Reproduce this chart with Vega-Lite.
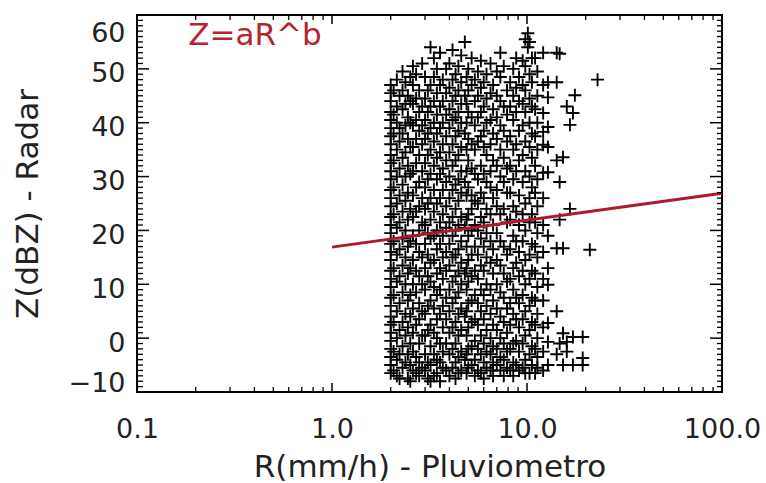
{
"$schema": "https://vega.github.io/schema/vega-lite/v6.json",
"width": 585, "height": 377,
"autosize": {"type": "none"},
"padding": {"left": 137, "top": 15, "right": 44, "bottom": 91},
"background": "white",
"view": {"stroke": "#000", "strokeWidth": 2},
"config": {"font": "DejaVu Sans", "axis": {"grid": false, "domain": false, "labelFont": "DejaVu Sans", "titleFont": "DejaVu Sans", "labelColor": "#222", "titleColor": "#222", "titleFontWeight": "normal", "labelOverlap": false, "labelBound": false}},
"datasets": {
"obs": [
{"R":2,"Z":47},{"R":2,"Z":45.5},{"R":2,"Z":44},{"R":2,"Z":42},{"R":2,"Z":40.5},{"R":2,"Z":39},{"R":2,"Z":37.5},{"R":2,"Z":36},{"R":2,"Z":34},{"R":2,"Z":32.5},{"R":2,"Z":31},{"R":2,"Z":29.5},{"R":2,"Z":27.5},{"R":2,"Z":26},{"R":2,"Z":24.5},{"R":2,"Z":22.5},{"R":2,"Z":21},{"R":2,"Z":19.5},{"R":2,"Z":17.5},{"R":2,"Z":16},{"R":2,"Z":14.5},{"R":2,"Z":12.5},{"R":2,"Z":11},{"R":2,"Z":9.5},{"R":2,"Z":7.5},{"R":2,"Z":6},{"R":2,"Z":4},{"R":2,"Z":2.5},{"R":2,"Z":1},{"R":2,"Z":-0.5},{"R":2,"Z":-2},{"R":2,"Z":-3.5},{"R":2,"Z":-5},{"R":2,"Z":-6.5},
{"R":2.07,"Z":46},{"R":2.07,"Z":41.5},{"R":2.07,"Z":38},{"R":2.07,"Z":33},{"R":2.07,"Z":28},{"R":2.07,"Z":23},{"R":2.07,"Z":18},{"R":2.07,"Z":13},{"R":2.07,"Z":8},{"R":2.07,"Z":3},{"R":2.07,"Z":-2.5},{"R":2.07,"Z":-6},
{"R":2.15,"Z":48},{"R":2.15,"Z":43},{"R":2.15,"Z":40},{"R":2.15,"Z":35},{"R":2.15,"Z":30},{"R":2.15,"Z":25},{"R":2.15,"Z":20.5},{"R":2.15,"Z":15.5},{"R":2.15,"Z":10.5},{"R":2.15,"Z":5},{"R":2.15,"Z":0},{"R":2.15,"Z":-4},{"R":2.15,"Z":-7},
{"R":2.22,"Z":45},{"R":2.22,"Z":39},{"R":2.22,"Z":36.5},{"R":2.22,"Z":31.5},{"R":2.22,"Z":26.5},{"R":2.22,"Z":21.5},{"R":2.22,"Z":16.5},{"R":2.22,"Z":11.5},{"R":2.22,"Z":6.5},{"R":2.22,"Z":1.5},{"R":2.22,"Z":-3},{"R":2.22,"Z":-7.5},
{"R":2.3,"Z":49.5},{"R":2.3,"Z":46},{"R":2.3,"Z":42.5},{"R":2.3,"Z":38},{"R":2.3,"Z":33.5},{"R":2.3,"Z":28.5},{"R":2.3,"Z":23.5},{"R":2.3,"Z":18.5},{"R":2.3,"Z":13.5},{"R":2.3,"Z":8.5},{"R":2.3,"Z":3},{"R":2.3,"Z":-1.5},{"R":2.3,"Z":-5.5},
{"R":2.38,"Z":47.5},{"R":2.38,"Z":43.5},{"R":2.38,"Z":39.5},{"R":2.38,"Z":34.5},{"R":2.38,"Z":30},{"R":2.38,"Z":25.5},{"R":2.38,"Z":20},{"R":2.38,"Z":15},{"R":2.38,"Z":10},{"R":2.38,"Z":4.5},{"R":2.38,"Z":0.5},{"R":2.38,"Z":-4.5},
{"R":2.45,"Z":45},{"R":2.45,"Z":41},{"R":2.45,"Z":37},{"R":2.45,"Z":32},{"R":2.45,"Z":27},{"R":2.45,"Z":22},{"R":2.45,"Z":17},{"R":2.45,"Z":12},{"R":2.45,"Z":7},{"R":2.45,"Z":2},{"R":2.45,"Z":-3},{"R":2.45,"Z":-7.5},
{"R":2.52,"Z":48.5},{"R":2.52,"Z":44},{"R":2.52,"Z":40},{"R":2.52,"Z":35.5},{"R":2.52,"Z":30.5},{"R":2.52,"Z":24},{"R":2.52,"Z":18},{"R":2.52,"Z":13},{"R":2.52,"Z":8},{"R":2.52,"Z":4},{"R":2.52,"Z":-1},{"R":2.52,"Z":-5},{"R":2.52,"Z":-8},
{"R":2.6,"Z":50.5},{"R":2.6,"Z":47},{"R":2.6,"Z":43.5},{"R":2.6,"Z":39.5},{"R":2.6,"Z":35.5},{"R":2.6,"Z":31},{"R":2.6,"Z":26.5},{"R":2.6,"Z":22.5},{"R":2.6,"Z":19},{"R":2.6,"Z":14.5},{"R":2.6,"Z":10},{"R":2.6,"Z":5.5},{"R":2.6,"Z":1},{"R":2.6,"Z":-2.5},{"R":2.6,"Z":-6},
{"R":2.7,"Z":49},{"R":2.7,"Z":44.5},{"R":2.7,"Z":40.5},{"R":2.7,"Z":37},{"R":2.7,"Z":32.5},{"R":2.7,"Z":28},{"R":2.7,"Z":23.5},{"R":2.7,"Z":17.5},{"R":2.7,"Z":12.5},{"R":2.7,"Z":8.5},{"R":2.7,"Z":2.5},{"R":2.7,"Z":-3.5},{"R":2.7,"Z":-6.5},
{"R":2.8,"Z":46},{"R":2.8,"Z":42},{"R":2.8,"Z":38.5},{"R":2.8,"Z":34},{"R":2.8,"Z":29},{"R":2.8,"Z":24.5},{"R":2.8,"Z":20},{"R":2.8,"Z":16},{"R":2.8,"Z":11.5},{"R":2.8,"Z":6.5},{"R":2.8,"Z":3.5},{"R":2.8,"Z":-1},{"R":2.8,"Z":-4.5},{"R":2.8,"Z":-7},
{"R":2.9,"Z":51},{"R":2.9,"Z":43},{"R":2.9,"Z":39.5},{"R":2.9,"Z":36},{"R":2.9,"Z":31},{"R":2.9,"Z":26},{"R":2.9,"Z":21.5},{"R":2.9,"Z":15},{"R":2.9,"Z":10},{"R":2.9,"Z":5},{"R":2.9,"Z":0.5},{"R":2.9,"Z":-5.5},
{"R":3.0,"Z":48.5},{"R":3.0,"Z":44.5},{"R":3.0,"Z":40.5},{"R":3.0,"Z":37},{"R":3.0,"Z":32.5},{"R":3.0,"Z":28},{"R":3.0,"Z":24},{"R":3.0,"Z":21},{"R":3.0,"Z":17.5},{"R":3.0,"Z":13},{"R":3.0,"Z":9},{"R":3.0,"Z":4.5},{"R":3.0,"Z":0.5},{"R":3.0,"Z":-3},{"R":3.0,"Z":-6},
{"R":3.1,"Z":46},{"R":3.1,"Z":42},{"R":3.1,"Z":38},{"R":3.1,"Z":34},{"R":3.1,"Z":29.5},{"R":3.1,"Z":25},{"R":3.1,"Z":19.5},{"R":3.1,"Z":15.5},{"R":3.1,"Z":11.5},{"R":3.1,"Z":6},{"R":3.1,"Z":1.5},{"R":3.1,"Z":-4.5},{"R":3.1,"Z":-7.5},
{"R":3.2,"Z":54},{"R":3.2,"Z":47},{"R":3.2,"Z":43},{"R":3.2,"Z":39},{"R":3.2,"Z":35},{"R":3.2,"Z":30.5},{"R":3.2,"Z":26},{"R":3.2,"Z":22},{"R":3.2,"Z":18.5},{"R":3.2,"Z":14},{"R":3.2,"Z":10.5},{"R":3.2,"Z":7},{"R":3.2,"Z":2.5},{"R":3.2,"Z":-1.5},{"R":3.2,"Z":-5},{"R":3.2,"Z":-8},
{"R":3.33,"Z":52},{"R":3.33,"Z":48.5},{"R":3.33,"Z":44},{"R":3.33,"Z":40},{"R":3.33,"Z":36.5},{"R":3.33,"Z":32},{"R":3.33,"Z":27.5},{"R":3.33,"Z":23.5},{"R":3.33,"Z":19},{"R":3.33,"Z":14.5},{"R":3.33,"Z":9.5},{"R":3.33,"Z":5.5},{"R":3.33,"Z":1},{"R":3.33,"Z":-3},{"R":3.33,"Z":-7},
{"R":3.45,"Z":50},{"R":3.45,"Z":45.5},{"R":3.45,"Z":41.5},{"R":3.45,"Z":38},{"R":3.45,"Z":33.5},{"R":3.45,"Z":29.5},{"R":3.45,"Z":25},{"R":3.45,"Z":20},{"R":3.45,"Z":16.5},{"R":3.45,"Z":12},{"R":3.45,"Z":8},{"R":3.45,"Z":3.5},{"R":3.45,"Z":0},{"R":3.45,"Z":-4},{"R":3.45,"Z":-6.5},
{"R":3.58,"Z":53},{"R":3.58,"Z":47},{"R":3.58,"Z":43},{"R":3.58,"Z":39},{"R":3.58,"Z":34.5},{"R":3.58,"Z":30.5},{"R":3.58,"Z":26},{"R":3.58,"Z":21.5},{"R":3.58,"Z":17.5},{"R":3.58,"Z":13},{"R":3.58,"Z":9},{"R":3.58,"Z":4.5},{"R":3.58,"Z":-1},{"R":3.58,"Z":-4.5},{"R":3.58,"Z":-8},
{"R":3.7,"Z":48},{"R":3.7,"Z":44},{"R":3.7,"Z":40},{"R":3.7,"Z":36},{"R":3.7,"Z":31.5},{"R":3.7,"Z":27.5},{"R":3.7,"Z":23},{"R":3.7,"Z":19},{"R":3.7,"Z":15},{"R":3.7,"Z":11},{"R":3.7,"Z":6},{"R":3.7,"Z":2},{"R":3.7,"Z":-2.5},{"R":3.7,"Z":-5.5},
{"R":3.85,"Z":50},{"R":3.85,"Z":45.5},{"R":3.85,"Z":41.5},{"R":3.85,"Z":37.5},{"R":3.85,"Z":33},{"R":3.85,"Z":29},{"R":3.85,"Z":24.5},{"R":3.85,"Z":20.5},{"R":3.85,"Z":16},{"R":3.85,"Z":12.5},{"R":3.85,"Z":7.5},{"R":3.85,"Z":3.5},{"R":3.85,"Z":-1},{"R":3.85,"Z":-6},
{"R":4.0,"Z":51},{"R":4.0,"Z":46.5},{"R":4.0,"Z":42.5},{"R":4.0,"Z":39},{"R":4.0,"Z":34.5},{"R":4.0,"Z":30},{"R":4.0,"Z":26},{"R":4.0,"Z":21.5},{"R":4.0,"Z":17.5},{"R":4.0,"Z":13.5},{"R":4.0,"Z":9},{"R":4.0,"Z":5},{"R":4.0,"Z":1},{"R":4.0,"Z":-3},{"R":4.0,"Z":-7},
{"R":4.15,"Z":53.5},{"R":4.15,"Z":48},{"R":4.15,"Z":44},{"R":4.15,"Z":40.5},{"R":4.15,"Z":36},{"R":4.15,"Z":32},{"R":4.15,"Z":27.5},{"R":4.15,"Z":22.5},{"R":4.15,"Z":19},{"R":4.15,"Z":15},{"R":4.15,"Z":10.5},{"R":4.15,"Z":6.5},{"R":4.15,"Z":2},{"R":4.15,"Z":-2},{"R":4.15,"Z":-5.5},
{"R":4.3,"Z":49},{"R":4.3,"Z":45},{"R":4.3,"Z":41},{"R":4.3,"Z":37.5},{"R":4.3,"Z":33},{"R":4.3,"Z":28.5},{"R":4.3,"Z":24},{"R":4.3,"Z":20},{"R":4.3,"Z":15.5},{"R":4.3,"Z":11.5},{"R":4.3,"Z":7.5},{"R":4.3,"Z":3},{"R":4.3,"Z":-1},{"R":4.3,"Z":-4.5},{"R":4.3,"Z":-7.5},
{"R":4.45,"Z":50.5},{"R":4.45,"Z":46},{"R":4.45,"Z":42},{"R":4.45,"Z":38.5},{"R":4.45,"Z":34},{"R":4.45,"Z":29.5},{"R":4.45,"Z":25.5},{"R":4.45,"Z":21},{"R":4.45,"Z":16.5},{"R":4.45,"Z":12.5},{"R":4.45,"Z":8.5},{"R":4.45,"Z":4.5},{"R":4.45,"Z":0.5},{"R":4.45,"Z":-3.5},{"R":4.45,"Z":-6.5},
{"R":4.6,"Z":52.5},{"R":4.6,"Z":47.5},{"R":4.6,"Z":43.5},{"R":4.6,"Z":40},{"R":4.6,"Z":35.5},{"R":4.6,"Z":31},{"R":4.6,"Z":27},{"R":4.6,"Z":22.5},{"R":4.6,"Z":18},{"R":4.6,"Z":14},{"R":4.6,"Z":10},{"R":4.6,"Z":5.5},{"R":4.6,"Z":1.5},{"R":4.6,"Z":-2.5},{"R":4.6,"Z":-6},
{"R":4.8,"Z":55},{"R":4.8,"Z":45},{"R":4.8,"Z":38},{"R":4.8,"Z":29},{"R":4.8,"Z":20.5},{"R":4.8,"Z":12},{"R":4.8,"Z":4},{"R":4.8,"Z":-4},
{"R":4.9,"Z":48.5},{"R":4.9,"Z":43.5},{"R":4.9,"Z":40},{"R":4.9,"Z":35},{"R":4.9,"Z":31},{"R":4.9,"Z":26.5},{"R":4.9,"Z":22},{"R":4.9,"Z":17},{"R":4.9,"Z":13},{"R":4.9,"Z":9},{"R":4.9,"Z":5},{"R":4.9,"Z":0.5},{"R":4.9,"Z":-3},{"R":4.9,"Z":-6.5},
{"R":5.0,"Z":50},{"R":5.0,"Z":46},{"R":5.0,"Z":42},{"R":5.0,"Z":37},{"R":5.0,"Z":33},{"R":5.0,"Z":28},{"R":5.0,"Z":23},{"R":5.0,"Z":19},{"R":5.0,"Z":14.5},{"R":5.0,"Z":10.5},{"R":5.0,"Z":6.5},{"R":5.0,"Z":2},{"R":5.0,"Z":-2},{"R":5.0,"Z":-5.5},
{"R":5.2,"Z":52},{"R":5.2,"Z":47},{"R":5.2,"Z":41},{"R":5.2,"Z":36},{"R":5.2,"Z":31.5},{"R":5.2,"Z":26.5},{"R":5.2,"Z":24},{"R":5.2,"Z":20},{"R":5.2,"Z":15.5},{"R":5.2,"Z":11.5},{"R":5.2,"Z":7},{"R":5.2,"Z":3},{"R":5.2,"Z":-1.5},{"R":5.2,"Z":-5},
{"R":5.4,"Z":48},{"R":5.4,"Z":44},{"R":5.4,"Z":39.5},{"R":5.4,"Z":35},{"R":5.4,"Z":30.5},{"R":5.4,"Z":25.5},{"R":5.4,"Z":21},{"R":5.4,"Z":17},{"R":5.4,"Z":12.5},{"R":5.4,"Z":8},{"R":5.4,"Z":3.5},{"R":5.4,"Z":-0.5},{"R":5.4,"Z":-4},{"R":5.4,"Z":-7},
{"R":5.6,"Z":49.5},{"R":5.6,"Z":45},{"R":5.6,"Z":41},{"R":5.6,"Z":36.5},{"R":5.6,"Z":29.5},{"R":5.6,"Z":25},{"R":5.6,"Z":20},{"R":5.6,"Z":15.5},{"R":5.6,"Z":11},{"R":5.6,"Z":6.5},{"R":5.6,"Z":2.5},{"R":5.6,"Z":-2},{"R":5.6,"Z":-6},
{"R":5.8,"Z":51.5},{"R":5.8,"Z":46.5},{"R":5.8,"Z":42},{"R":5.8,"Z":37.5},{"R":5.8,"Z":32},{"R":5.8,"Z":27},{"R":5.8,"Z":22.5},{"R":5.8,"Z":18.5},{"R":5.8,"Z":13.5},{"R":5.8,"Z":9},{"R":5.8,"Z":5},{"R":5.8,"Z":0.5},{"R":5.8,"Z":-3},{"R":5.8,"Z":-6.5},
{"R":6.0,"Z":47.5},{"R":6.0,"Z":43},{"R":6.0,"Z":38.5},{"R":6.0,"Z":35.5},{"R":6.0,"Z":30.5},{"R":6.0,"Z":26},{"R":6.0,"Z":21.5},{"R":6.0,"Z":17},{"R":6.0,"Z":12.5},{"R":6.0,"Z":8},{"R":6.0,"Z":3.5},{"R":6.0,"Z":-1},{"R":6.0,"Z":-4.5},{"R":6.0,"Z":-7.5},
{"R":6.2,"Z":49},{"R":6.2,"Z":44.5},{"R":6.2,"Z":40},{"R":6.2,"Z":34},{"R":6.2,"Z":29},{"R":6.2,"Z":24},{"R":6.2,"Z":19.5},{"R":6.2,"Z":15},{"R":6.2,"Z":10},{"R":6.2,"Z":6},{"R":6.2,"Z":1.5},{"R":6.2,"Z":-2.5},{"R":6.2,"Z":-5.5},
{"R":6.5,"Z":51},{"R":6.5,"Z":45.5},{"R":6.5,"Z":40.5},{"R":6.5,"Z":36},{"R":6.5,"Z":31},{"R":6.5,"Z":28},{"R":6.5,"Z":23},{"R":6.5,"Z":18},{"R":6.5,"Z":14},{"R":6.5,"Z":9},{"R":6.5,"Z":4.5},{"R":6.5,"Z":0},{"R":6.5,"Z":-3},{"R":6.5,"Z":-6},
{"R":6.7,"Z":47},{"R":6.7,"Z":42.5},{"R":6.7,"Z":38},{"R":6.7,"Z":33},{"R":6.7,"Z":26},{"R":6.7,"Z":21},{"R":6.7,"Z":16.5},{"R":6.7,"Z":12},{"R":6.7,"Z":7},{"R":6.7,"Z":2.5},{"R":6.7,"Z":-1.5},{"R":6.7,"Z":-4.5},{"R":6.7,"Z":-7},
{"R":7.0,"Z":49.5},{"R":7.0,"Z":45},{"R":7.0,"Z":41},{"R":7.0,"Z":37},{"R":7.0,"Z":32},{"R":7.0,"Z":27.5},{"R":7.0,"Z":24.5},{"R":7.0,"Z":19.5},{"R":7.0,"Z":14.5},{"R":7.0,"Z":10},{"R":7.0,"Z":5.5},{"R":7.0,"Z":1.5},{"R":7.0,"Z":-2},{"R":7.0,"Z":-5},
{"R":7.3,"Z":53},{"R":7.3,"Z":48.5},{"R":7.3,"Z":44},{"R":7.3,"Z":39.5},{"R":7.3,"Z":35},{"R":7.3,"Z":30},{"R":7.3,"Z":23},{"R":7.3,"Z":18},{"R":7.3,"Z":13.5},{"R":7.3,"Z":8.5},{"R":7.3,"Z":4},{"R":7.3,"Z":0},{"R":7.3,"Z":-3.5},{"R":7.3,"Z":-6},
{"R":7.6,"Z":50.5},{"R":7.6,"Z":43},{"R":7.6,"Z":38.5},{"R":7.6,"Z":33.5},{"R":7.6,"Z":29},{"R":7.6,"Z":24},{"R":7.6,"Z":17},{"R":7.6,"Z":12},{"R":7.6,"Z":7.5},{"R":7.6,"Z":3},{"R":7.6,"Z":-1},{"R":7.6,"Z":-4},{"R":7.6,"Z":-7},
{"R":7.9,"Z":46},{"R":7.9,"Z":41.5},{"R":7.9,"Z":36.5},{"R":7.9,"Z":31.5},{"R":7.9,"Z":27},{"R":7.9,"Z":21.5},{"R":7.9,"Z":15.5},{"R":7.9,"Z":10.5},{"R":7.9,"Z":5.5},{"R":7.9,"Z":1},{"R":7.9,"Z":-2.5},{"R":7.9,"Z":-5.5},
{"R":8.2,"Z":47.5},{"R":8.2,"Z":43},{"R":8.2,"Z":37.5},{"R":8.2,"Z":32},{"R":8.2,"Z":27},{"R":8.2,"Z":22},{"R":8.2,"Z":16.5},{"R":8.2,"Z":11},{"R":8.2,"Z":6.5},{"R":8.2,"Z":2.5},{"R":8.2,"Z":-2},{"R":8.2,"Z":-6},
{"R":8.5,"Z":50},{"R":8.5,"Z":45},{"R":8.5,"Z":40.5},{"R":8.5,"Z":35},{"R":8.5,"Z":29.5},{"R":8.5,"Z":24.5},{"R":8.5,"Z":19},{"R":8.5,"Z":13},{"R":8.5,"Z":9},{"R":8.5,"Z":4.5},{"R":8.5,"Z":-1},{"R":8.5,"Z":-4.5},{"R":8.5,"Z":-7},
{"R":8.8,"Z":52},{"R":8.8,"Z":46.5},{"R":8.8,"Z":42},{"R":8.8,"Z":36},{"R":8.8,"Z":31},{"R":8.8,"Z":23.5},{"R":8.8,"Z":18},{"R":8.8,"Z":14},{"R":8.8,"Z":7.5},{"R":8.8,"Z":3.5},{"R":8.8,"Z":-0.5},{"R":8.8,"Z":-5},
{"R":9.1,"Z":48.5},{"R":9.1,"Z":44},{"R":9.1,"Z":38.5},{"R":9.1,"Z":33},{"R":9.1,"Z":26.5},{"R":9.1,"Z":21},{"R":9.1,"Z":16},{"R":9.1,"Z":11.5},{"R":9.1,"Z":6.5},{"R":9.1,"Z":2},{"R":9.1,"Z":-2.5},{"R":9.1,"Z":-6},
{"R":9.5,"Z":51.5},{"R":9.5,"Z":47},{"R":9.5,"Z":43.5},{"R":9.5,"Z":39.5},{"R":9.5,"Z":34},{"R":9.5,"Z":29},{"R":9.5,"Z":23},{"R":9.5,"Z":18},{"R":9.5,"Z":12.5},{"R":9.5,"Z":8},{"R":9.5,"Z":3.5},{"R":9.5,"Z":-1},{"R":9.5,"Z":-5.5},
{"R":9.8,"Z":55.5},{"R":9.8,"Z":50.5},{"R":9.8,"Z":46},{"R":9.8,"Z":42},{"R":9.8,"Z":36.5},{"R":9.8,"Z":31},{"R":9.8,"Z":25},{"R":9.8,"Z":20},{"R":9.8,"Z":14.5},{"R":9.8,"Z":10},{"R":9.8,"Z":5},{"R":9.8,"Z":0.5},{"R":9.8,"Z":-4},{"R":9.8,"Z":-6.5},
{"R":10.1,"Z":56.6},{"R":10.1,"Z":54},
{"R":10.3,"Z":55},{"R":10.3,"Z":49},{"R":10.3,"Z":44.5},{"R":10.3,"Z":40},{"R":10.3,"Z":35.5},{"R":10.3,"Z":30},{"R":10.3,"Z":26},{"R":10.3,"Z":21.5},{"R":10.3,"Z":15.5},{"R":10.3,"Z":11},{"R":10.3,"Z":6},{"R":10.3,"Z":1.5},{"R":10.3,"Z":-3},{"R":10.3,"Z":-6.5},
{"R":10.6,"Z":52},{"R":10.6,"Z":47.5},{"R":10.6,"Z":43},{"R":10.6,"Z":38},{"R":10.6,"Z":33.5},{"R":10.6,"Z":28},{"R":10.6,"Z":23},{"R":10.6,"Z":17.5},{"R":10.6,"Z":12.5},{"R":10.6,"Z":7.5},{"R":10.6,"Z":3},{"R":10.6,"Z":-1.5},{"R":10.6,"Z":-5},
{"R":11.0,"Z":52},{"R":11.0,"Z":42.5},{"R":11.0,"Z":37.5},{"R":11.0,"Z":32},{"R":11.0,"Z":27},{"R":11.0,"Z":21.5},{"R":11.0,"Z":17},{"R":11.0,"Z":12},{"R":11.0,"Z":7},{"R":11.0,"Z":2.5},{"R":11.0,"Z":-2},{"R":11.0,"Z":-6.5},
{"R":11.3,"Z":49.5},{"R":11.3,"Z":45},{"R":11.3,"Z":40},{"R":11.3,"Z":35},{"R":11.3,"Z":29.5},{"R":11.3,"Z":24.5},{"R":11.3,"Z":19.5},{"R":11.3,"Z":15},{"R":11.3,"Z":9.5},{"R":11.3,"Z":4.5},{"R":11.3,"Z":0},{"R":11.3,"Z":-3.5},{"R":11.3,"Z":-5.5},
{"R":12.1,"Z":53},{"R":12.1,"Z":47},{"R":12.1,"Z":41.8},{"R":12.1,"Z":38.3},{"R":12.1,"Z":35.9},{"R":12.1,"Z":30.7},{"R":12.1,"Z":26},{"R":12.1,"Z":21},{"R":12.1,"Z":16},{"R":12.1,"Z":11},{"R":12.1,"Z":7},{"R":12.1,"Z":2},{"R":12.1,"Z":-2.5},{"R":12.1,"Z":-6},
{"R":12.8,"Z":47.5},{"R":12.8,"Z":44.7},{"R":12.8,"Z":39.2},{"R":12.8,"Z":35.5},{"R":12.8,"Z":30.8},{"R":12.8,"Z":19},{"R":12.8,"Z":13},{"R":12.8,"Z":9.9},{"R":12.8,"Z":2.8},{"R":12.8,"Z":-0.7},{"R":12.8,"Z":-5},
{"R":14.2,"Z":53},{"R":14.2,"Z":47.5},{"R":14.2,"Z":33},{"R":14.2,"Z":16.7},{"R":14.2,"Z":5},{"R":14.2,"Z":-3},
{"R":14.7,"Z":52.8},{"R":14.7,"Z":29},{"R":14.7,"Z":22},{"R":14.7,"Z":-1},
{"R":15.3,"Z":33.6},{"R":15.3,"Z":16.7},{"R":15.3,"Z":0.9},{"R":15.3,"Z":-5},
{"R":16.0,"Z":43},{"R":16.0,"Z":-0.7},{"R":16.0,"Z":-2.5},
{"R":16.6,"Z":39.6},{"R":16.6,"Z":24},
{"R":17.2,"Z":41.8},{"R":17.2,"Z":0.2},{"R":17.2,"Z":-5},
{"R":17.6,"Z":45.1},
{"R":19.3,"Z":0.2},{"R":19.3,"Z":-3.7},{"R":19.3,"Z":-5},
{"R":21,"Z":16.4},
{"R":23,"Z":48}
],
"fit": [{"R":1,"Z":16.9},{"R":100,"Z":26.9}],
"note": [{"R":0.183,"Z":54.4,"label":"Z=aR^b"}],
"xMajor": [{"v":1},{"v":10}],
"xMinor": [{"v":0.2},{"v":0.3},{"v":0.4},{"v":0.5},{"v":0.6},{"v":0.7},{"v":0.8},{"v":0.9},{"v":2},{"v":3},{"v":4},{"v":5},{"v":6},{"v":7},{"v":8},{"v":9},{"v":20},{"v":30},{"v":40},{"v":50},{"v":60},{"v":70},{"v":80},{"v":90}],
"yMajor": [{"v":0},{"v":10},{"v":20},{"v":30},{"v":40},{"v":50}],
"yMinor": [{"v":-9},{"v":-8},{"v":-7},{"v":-6},{"v":-5},{"v":-4},{"v":-3},{"v":-2},{"v":-1},{"v":1},{"v":2},{"v":3},{"v":4},{"v":5},{"v":6},{"v":7},{"v":8},{"v":9},{"v":11},{"v":12},{"v":13},{"v":14},{"v":15},{"v":16},{"v":17},{"v":18},{"v":19},{"v":21},{"v":22},{"v":23},{"v":24},{"v":25},{"v":26},{"v":27},{"v":28},{"v":29},{"v":31},{"v":32},{"v":33},{"v":34},{"v":35},{"v":36},{"v":37},{"v":38},{"v":39},{"v":41},{"v":42},{"v":43},{"v":44},{"v":45},{"v":46},{"v":47},{"v":48},{"v":49},{"v":51},{"v":52},{"v":53},{"v":54},{"v":55},{"v":56},{"v":57},{"v":58},{"v":59}]
},
"layer": [
{"data": {"name": "obs"},
 "mark": {"type": "point", "shape": "M-1,0H1M0,-1V1", "size": 169, "filled": false, "stroke": "#000", "strokeWidth": 1.9, "opacity": 1},
 "encoding": {
  "x": {"field": "R", "type": "quantitative", "scale": {"type": "log", "domain": [0.1, 100]},
   "axis": {"orient": "bottom", "values": [0.1, 1, 10, 100], "format": ".1f", "ticks": false,
    "labelFlush": false, "labelFontSize": 27, "labelPadding": 24, "title": "R(mm/h) - Pluviometro", "titleFontSize": 31, "titleX": 292.5, "titleY": 84, "titleBaseline": "alphabetic", "titleAlign": "center"}},
  "y": {"field": "Z", "type": "quantitative", "scale": {"domain": [-10, 60], "nice": false, "zero": false},
   "axis": {"orient": "left", "values": [-10, 0, 10, 20, 30, 40, 50, 60], "ticks": false,
    "labelFlush": true, "labelOffset": 5, "labelFontSize": 27, "labelPadding": 12, "title": "Z(dBZ) - Radar", "titleFontSize": 31, "titleX": -100, "titleY": 188.5, "titleAngle": -90, "titleBaseline": "alphabetic", "titleAlign": "center"}}
 }},
{"data": {"name": "fit"},
 "mark": {"type": "line", "color": "#b3172b", "strokeWidth": 3},
 "encoding": {
  "x": {"field": "R", "type": "quantitative", "scale": {"type": "log", "domain": [0.1, 100]}, "axis": null},
  "y": {"field": "Z", "type": "quantitative", "scale": {"domain": [-10, 60], "nice": false, "zero": false}, "axis": null}
 }},
{"data": {"name": "yMajor"},
 "mark": {"type": "tick", "orient": "horizontal", "size": 24, "thickness": 1.5, "color": "#000", "opacity": 1, "clip": true},
 "encoding": {"y": {"field": "v", "type": "quantitative", "axis": null}, "x": {"datum": 0.1, "axis": null}}},
{"data": {"name": "yMajor"},
 "mark": {"type": "tick", "orient": "horizontal", "size": 24, "thickness": 1.5, "color": "#000", "opacity": 1, "clip": true},
 "encoding": {"y": {"field": "v", "type": "quantitative", "axis": null}, "x": {"datum": 100, "axis": null}}},
{"data": {"name": "yMinor"},
 "mark": {"type": "tick", "orient": "horizontal", "size": 12, "thickness": 1.3, "color": "#000", "opacity": 1, "clip": true},
 "encoding": {"y": {"field": "v", "type": "quantitative", "axis": null}, "x": {"datum": 0.1, "axis": null}}},
{"data": {"name": "yMinor"},
 "mark": {"type": "tick", "orient": "horizontal", "size": 10, "thickness": 1.3, "color": "#000", "opacity": 1, "clip": true},
 "encoding": {"y": {"field": "v", "type": "quantitative", "axis": null}, "x": {"datum": 100, "axis": null}}},
{"data": {"name": "xMajor"},
 "mark": {"type": "tick", "orient": "vertical", "size": 18, "thickness": 1.5, "color": "#000", "opacity": 1, "clip": true},
 "encoding": {"x": {"field": "v", "type": "quantitative", "axis": null}, "y": {"datum": -10, "axis": null}}},
{"data": {"name": "xMajor"},
 "mark": {"type": "tick", "orient": "vertical", "size": 18, "thickness": 1.5, "color": "#000", "opacity": 1, "clip": true},
 "encoding": {"x": {"field": "v", "type": "quantitative", "axis": null}, "y": {"datum": 60, "axis": null}}},
{"data": {"name": "xMinor"},
 "mark": {"type": "tick", "orient": "vertical", "size": 10, "thickness": 1.3, "color": "#000", "opacity": 1, "clip": true},
 "encoding": {"x": {"field": "v", "type": "quantitative", "axis": null}, "y": {"datum": -10, "axis": null}}},
{"data": {"name": "xMinor"},
 "mark": {"type": "tick", "orient": "vertical", "size": 10, "thickness": 1.3, "color": "#000", "opacity": 1, "clip": true},
 "encoding": {"x": {"field": "v", "type": "quantitative", "axis": null}, "y": {"datum": 60, "axis": null}}},
{"data": {"name": "note"},
 "mark": {"type": "text", "color": "#b82330", "fontSize": 31, "font": "DejaVu Sans", "align": "left", "baseline": "alphabetic"},
 "encoding": {
  "x": {"field": "R", "type": "quantitative", "axis": null},
  "y": {"field": "Z", "type": "quantitative", "axis": null},
  "text": {"field": "label"}
 }}
],
"resolve": {"axis": {"x": "independent", "y": "independent"}}
}
